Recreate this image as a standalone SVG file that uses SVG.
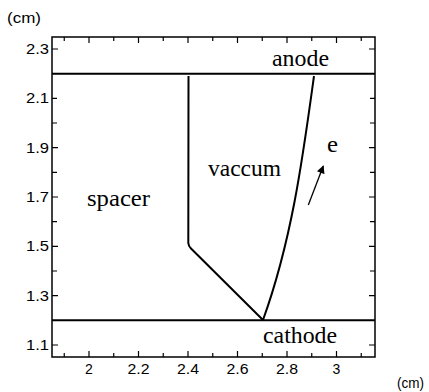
<svg xmlns="http://www.w3.org/2000/svg" width="429" height="392" viewBox="0 0 429 392">
<style>
.ax{fill:none;stroke:#000;stroke-width:1.5}
.tk{stroke:#000;stroke-width:1.2}
.num{font-family:"Liberation Sans",Arial,sans-serif;font-size:14px;fill:#000}
.nl{text-anchor:end}
.nb{text-anchor:middle}
.lab{font-family:"Liberation Serif","Times New Roman",serif;font-size:23px;fill:#000}
.bd{fill:none;stroke:#000;stroke-width:2;stroke-linejoin:round}
</style>
<defs>
<marker id="ah" viewBox="0 0 10 10" refX="9" refY="5" markerWidth="9" markerHeight="8" markerUnits="userSpaceOnUse" orient="auto">
<path d="M0,0 L10,5 L0,10 z" fill="#000"/>
</marker>
</defs>
<rect width="429" height="392" fill="#fff"/>
<g id="axes">
<rect class="ax" x="52" y="37" width="323" height="320"/>
<g class="tk">
<path d="M64.25,357v-4 M89,357v-6 M113.75,357v-4 M138.5,357v-6 M163.25,357v-4 M188,357v-6 M212.75,357v-4 M237.5,357v-6 M262.25,357v-4 M287,357v-6 M311.75,357v-4 M336.5,357v-6 M361.25,357v-4"/>
<path d="M64.25,37v4 M89,37v6 M113.75,37v4 M138.5,37v6 M163.25,37v4 M188,37v6 M212.75,37v4 M237.5,37v6 M262.25,37v4 M287,37v6 M311.75,37v4 M336.5,37v6 M361.25,37v4"/>
<path d="M52,49h6 M52,98.3h5 M52,123h5 M52,147.7h6 M52,172.3h5 M52,197h6 M52,221.7h5 M52,246.3h6 M52,271h5 M52,295.7h6 M52,345h6"/>
<path d="M375,49h-6 M375,98.3h-5 M375,123h-5 M375,147.7h-6 M375,172.3h-5 M375,197h-6 M375,221.7h-5 M375,246.3h-6 M375,271h-5 M375,295.7h-6 M375,345h-6"/>
</g>
<g class="num nl">
<text x="49" y="54" textLength="23" lengthAdjust="spacingAndGlyphs">2.3</text>
<text x="49" y="103.3" textLength="23" lengthAdjust="spacingAndGlyphs">2.1</text>
<text x="49" y="152.7" textLength="23" lengthAdjust="spacingAndGlyphs">1.9</text>
<text x="49" y="202" textLength="23" lengthAdjust="spacingAndGlyphs">1.7</text>
<text x="49" y="251.3" textLength="23" lengthAdjust="spacingAndGlyphs">1.5</text>
<text x="49" y="300.7" textLength="23" lengthAdjust="spacingAndGlyphs">1.3</text>
<text x="49" y="350" textLength="23" lengthAdjust="spacingAndGlyphs">1.1</text>
</g>
<g class="num nb">
<text x="89" y="374">2</text>
<text x="138.5" y="374" textLength="22" lengthAdjust="spacingAndGlyphs">2.2</text>
<text x="188" y="374" textLength="22" lengthAdjust="spacingAndGlyphs">2.4</text>
<text x="237.5" y="374" textLength="22" lengthAdjust="spacingAndGlyphs">2.6</text>
<text x="287" y="374" textLength="22" lengthAdjust="spacingAndGlyphs">2.8</text>
<text x="336.5" y="374">3</text>
</g>
<text class="num" x="7" y="23" textLength="34" lengthAdjust="spacingAndGlyphs">(cm)</text>
<text class="num" x="397" y="388" textLength="27" lengthAdjust="spacingAndGlyphs">(cm)</text>
</g>
<g id="anode">
<line x1="52" y1="73.7" x2="375" y2="73.7" stroke="#000" stroke-width="2"/>
<text class="lab" x="272" y="65.5" textLength="57" lengthAdjust="spacingAndGlyphs">anode</text>
</g>
<g id="cathode">
<line x1="52" y1="320.3" x2="375" y2="320.3" stroke="#000" stroke-width="2"/>
<text class="lab" x="263" y="342.5" textLength="74" lengthAdjust="spacingAndGlyphs">cathode</text>
</g>
<g id="spacer">
<path class="bd" d="M188.5,76 L188.3,243 Q188.5,246 191,248.5 L263,320"/>
<text class="lab" x="87" y="205.5" textLength="63" lengthAdjust="spacingAndGlyphs">spacer</text>
</g>
<g id="vaccum">
<path class="bd" stroke-width="2.2" d="M263,320 C292,240 303,156 314,76"/>
<text class="lab" x="208" y="175.5" textLength="73" lengthAdjust="spacingAndGlyphs">vaccum</text>
</g>
<g id="electron">
<text class="lab" x="327" y="151.5" textLength="11" lengthAdjust="spacingAndGlyphs">e</text>
</g>
<g id="connectors">
<line x1="308.3" y1="205" x2="323.3" y2="166" stroke="#000" stroke-width="1.3" marker-end="url(#ah)"/>
</g>
</svg>
